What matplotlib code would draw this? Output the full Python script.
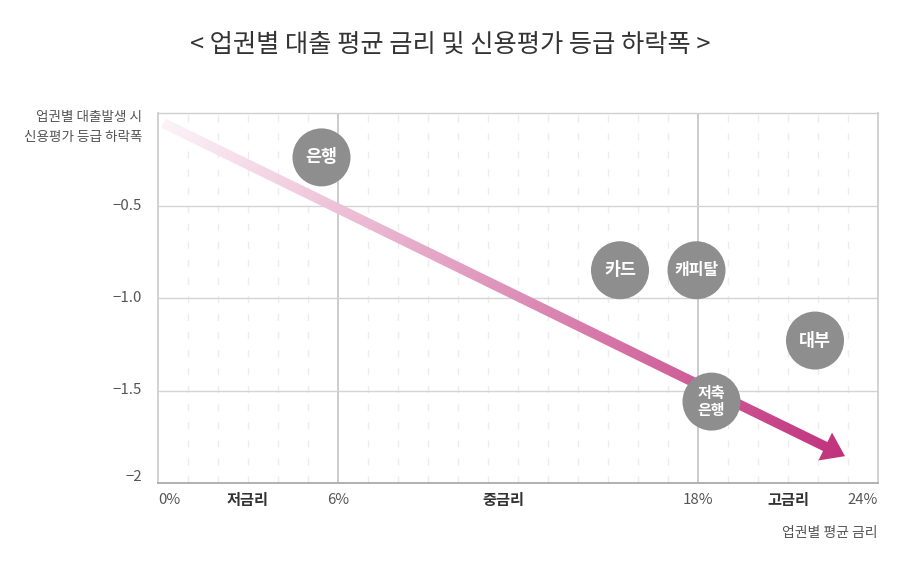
import matplotlib
matplotlib.use("Agg")
import matplotlib.pyplot as plt
import numpy as np
from matplotlib.patches import Polygon

plt.rcParams['font.family'] = ['Noto Sans CJK KR', 'DejaVu Sans']

# ---- data ----
title = "< 업권별 대출 평균 금리 및 신용평가 등급 하락폭 >"
ylabel_text = "업권별 대출발생 시\n신용평가 등급 하락폭"
xlabel_text = "업권별 평균 금리"
rate_ticks = [0, 6, 18, 24]
rate_labels = ["0%", "6%", "18%", "24%"]
tier_pos = [3, 11.5, 21]
tier_labels = ["저금리", "중금리", "고금리"]
drop_ticks = [-0.5, -1.0, -1.5, -2.0]
drop_labels = ["\u22120.5", "\u22121.0", "\u22121.5", "\u22122"]
sectors = ["은행", "카드", "캐피탈", "저축\n은행", "대부"]
sector_rate = [5.45, 15.4, 17.95, 18.45, 21.9]
sector_drop = [-0.24, -0.85, -0.85, -1.56, -1.23]
trend_rate = [0.18, 22.9]
trend_drop = [-0.055, -1.855]

W, H, DPI = 900, 566, 100
fig = plt.figure(figsize=(W / DPI, H / DPI), dpi=DPI)
ax = fig.add_axes([158 / W, 1 - 483 / H, 720 / W, 370 / H])
ax.set_xlim(0, 24)
ax.set_ylim(-2, 0)

# grid
for x in range(1, 24):
    if x in (6, 18):
        ax.axvline(x, color="#c8c8c8", lw=1.3, zorder=1)
    else:
        ax.axvline(x, color="#ececec", lw=1.0, ls=(0, (5, 8)), zorder=1)
for y in drop_ticks[:-1]:
    ax.axhline(y, color="#d4d4d4", lw=1.0, zorder=1)

for s in ["top", "right", "left"]:
    ax.spines[s].set_color("#cfcfcf")
    ax.spines[s].set_linewidth(1.0)
ax.spines["left"].set_linewidth(1.3)
ax.spines["right"].set_linewidth(1.3)
ax.spines["bottom"].set_color("#aaaaaa")
ax.spines["bottom"].set_linewidth(1.3)

ax.set_xticks([])
ax.set_yticks([])

# y tick labels
for y, lab in zip(drop_ticks, drop_labels):
    dy = 6 if y == drop_ticks[-1] else 0
    ax.annotate(lab, (0, y), xytext=(-16, dy), textcoords="offset pixels",
                ha="right", va="center", fontsize=10.8, color="#555555")

# x tick labels
xl_y = -2.09
for x, lab in zip(rate_ticks, rate_labels):
    ha = "left" if x == 0 else ("right" if x == 24 else "center")
    ax.text(x, xl_y, lab, ha=ha, va="center", fontsize=10.8, color="#555555")
for x, lab in zip(tier_pos, tier_labels):
    ax.text(x, xl_y, lab, ha="center", va="center", fontsize=11, color="#333333",
            fontweight="bold")

fig.text(450 / W, 1 - 45 / H, title, ha="center", va="center", fontsize=18.2,
         color="#333333", fontweight="medium")
fig.text(142 / W, 1 - 127 / H, ylabel_text, ha="right", va="center", fontsize=9.8,
         color="#555555", linespacing=1.55)
fig.text(878 / W, 1 - 533 / H, xlabel_text, ha="right", va="center", fontsize=10,
         color="#555555")

# gradient arrow
fig.canvas.draw()
T = ax.transData
p0 = T.transform((trend_rate[0], trend_drop[0]))
p1 = T.transform((trend_rate[1], trend_drop[1]))
d = p1 - p0
L = np.hypot(*d)
u = d / L
n = np.array([-u[1], u[0]])
hw = 5.0
head_len = 22.0
head_hw = 15.5
base = p1 - u * head_len
pts = [p0 + n * hw, base + n * hw, base + n * head_hw, p1,
       base - n * head_hw, base - n * hw, p0 - n * hw]
pts_data = T.inverted().transform(np.array(pts))
poly = Polygon(pts_data, closed=True, facecolor="none", edgecolor="none")
ax.add_patch(poly)

nx, ny = 400, 200
gx = np.linspace(0, 24, nx)
gy = np.linspace(0, -2, ny)
GX, GY = np.meshgrid(gx, gy)
disp = T.transform(np.column_stack([GX.ravel(), GY.ravel()]))
t = ((disp - p0) @ u) / L
t = np.clip(t, 0, 1).reshape(ny, nx)
c0 = np.array([252, 243, 247]) / 255
c1 = np.array([193, 50, 125]) / 255
img = c0[None, None, :] * (1 - t[..., None]) + c1[None, None, :] * t[..., None]
im = ax.imshow(img, extent=(0, 24, -2, 0), aspect="auto", zorder=3, interpolation="bilinear")
im.set_clip_path(poly)

# bubbles
ax.scatter(sector_rate, sector_drop, s=(58 * 72 / DPI) ** 2, color="#8e8e8e",
           zorder=5, edgecolors="none")
for x, y, lab in zip(sector_rate, sector_drop, sectors):
    fs = 10.8 if "\n" in lab else (11.5 if len(lab) > 2 else 12.5)
    ax.text(x, y, lab, ha="center", va="center", color="white", fontsize=fs,
            fontweight="bold", zorder=6, linespacing=1.1)

fig.savefig("out.png", dpi=DPI)
